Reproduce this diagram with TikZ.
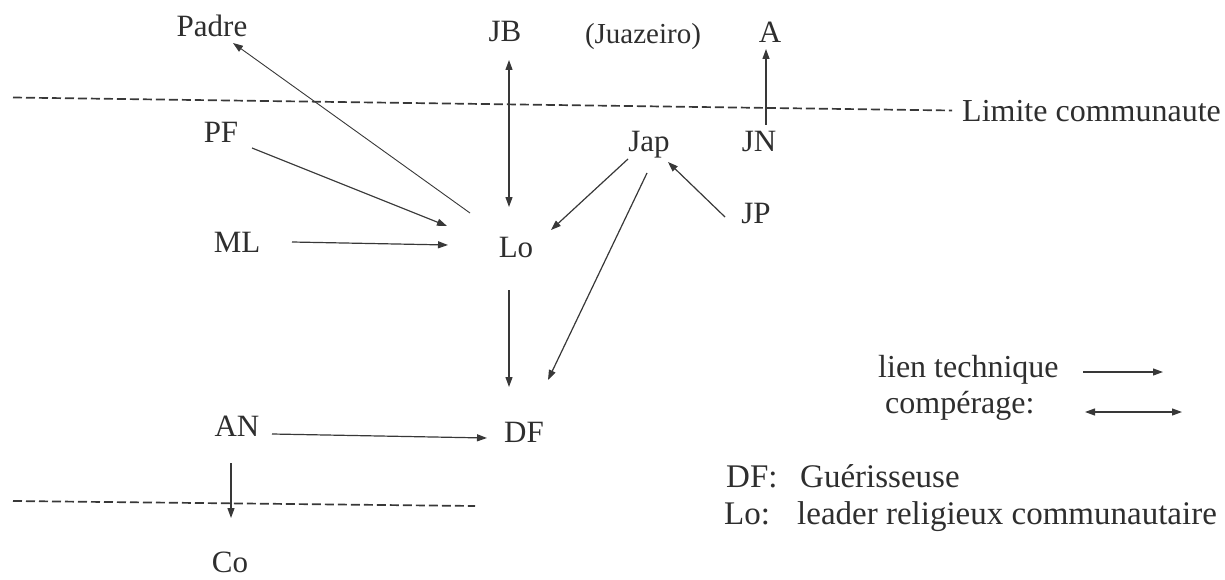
\documentclass[tikz,border=0pt]{standalone}
\usepackage{fontspec}
\setmainfont{Liberation Serif}
\usetikzlibrary{arrows.meta}
\definecolor{ink}{HTML}{2E2E2E}
\definecolor{rule}{HTML}{383838}
\tikzset{
  lbl/.style={inner sep=0pt, anchor=base, text=ink, font=\fontsize{31}{35}\selectfont},
  leg/.style={inner sep=0pt, anchor=base west, text=ink, font=\fontsize{32}{37}\selectfont},
  link/.style={draw=rule, line width=1.2pt, -{Triangle[length=10pt,width=7pt]}},
  both/.style={draw=rule, line width=1.2pt, {Triangle[length=10pt,width=7pt]}-{Triangle[length=10pt,width=7pt]}},
  border/.style={draw=rule, line width=1.7pt, dash pattern=on 9pt off 4pt}
}
\begin{document}
\begin{tikzpicture}[x=1pt,y=-1pt]
\useasboundingbox (0,0) rectangle (1225,580);

% actors
\node[lbl] (padre) at (212,37)  {Padre};
\node[lbl] (jb)    at (505,42)  {JB};
\node[lbl, font=\fontsize{29}{33}\selectfont] (juaz) at (643,44) {(Juazeiro)};
\node[lbl] (a)     at (770,43)  {A};
\node[lbl] (pf)    at (221,143) {PF};
\node[lbl] (jap)   at (649,152) {Jap};
\node[lbl] (jn)    at (759,152) {JN};
\node[lbl] (jp)    at (756,223) {JP};
\node[lbl] (ml)    at (237,252) {ML};
\node[lbl] (lo)    at (516,257) {Lo};
\node[lbl] (df)    at (524,442) {DF};
\node[lbl] (an)    at (237,436) {AN};
\node[lbl] (co)    at (230,572) {Co};

% community boundaries
\coordinate (topL) at (13,97.5);
\coordinate (topR) at (952,110.5);
\draw[border] (topL) -- (topR);
\node[leg] (limite) at (962,122) {Limite communaute};
\coordinate (botL) at (13,501);
\coordinate (botR) at (475,506);
\draw[border] (botL) -- (botR);

% links
\draw[link, line width=0.9pt] ([shift={(-46,-44)}]lo.base) -- ([shift={(21,6)}]padre.base);
\draw[link] ([shift={(31,5)}]pf.base) -- ([shift={(-69,-31)}]lo.base);
\draw[link] ([shift={(55,-10)}]ml.base) -- ([shift={(-68,-12)}]lo.base);
\draw[both] ([shift={(4,18)}]jb.base) -- ([shift={(-7,-50)}]lo.base);
\draw[link] ([shift={(-7,33)}]lo.base) -- ([shift={(-15,-55)}]df.base);
\draw[link] ([shift={(-21,7)}]jap.base) -- ([shift={(35,-27)}]lo.base);
\draw[link] ([shift={(-2,21)}]jap.base) -- ([shift={(24,-62)}]df.base);
\draw[link] ([shift={(-31,-6)}]jp.base) -- ([shift={(19,10)}]jap.base);
\draw[link] ([shift={(7,-27)}]jn.base) -- ([shift={(-4,6)}]a.base);
\draw[link] ([shift={(35,-2)}]an.base) -- ([shift={(-37,-4)}]df.base);
\draw[link] ([shift={(-6,27)}]an.base) -- ([shift={(-6,82)}]an.base);

% legend
\node[leg] (lienT) at (878,377) {lien technique};
\coordinate (l1a) at (1083,372);
\coordinate (l1b) at (1163,372);
\draw[link] (l1a) -- (l1b);
\node[leg] (compT) at (885,413) {compérage:};
\coordinate (l2a) at (1085,412);
\coordinate (l2b) at (1182,412);
\draw[both] (l2a) -- (l2b);
\node[leg, font=\fontsize{33}{38}\selectfont] (dfk) at (726,487) {DF:};
\node[leg, font=\fontsize{33}{38}\selectfont] (dfv) at (800,487) {Guérisseuse};
\node[leg, font=\fontsize{33}{38}\selectfont] (lok) at (724,524) {Lo:};
\node[leg, font=\fontsize{33}{38}\selectfont] (lov) at (797,524) {leader religieux communautaire};
\end{tikzpicture}
\end{document}
